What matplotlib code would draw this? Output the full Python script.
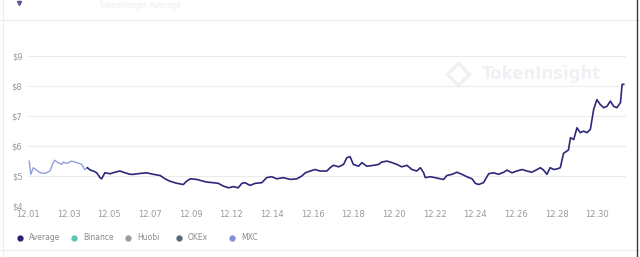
import numpy as np
import matplotlib
matplotlib.use('Agg')
import matplotlib.pyplot as plt
from matplotlib.lines import Line2D

# tick labels (category axis, evenly spaced)
tick_labels = ['12.01', '12.03', '12.05', '12.07', '12.09', '12.12', '12.14', '12.16',
               '12.18', '12.20', '12.22', '12.24', '12.26', '12.28', '12.30']

# early part of the series (lighter line), position in tick units
early_t = [0.03, 0.07, 0.13, 0.30, 0.42, 0.54, 0.62, 0.66, 0.70, 0.83,
           0.87, 0.95, 1.07, 1.20, 1.32, 1.40, 1.46]
early_v = [5.50, 5.06, 5.28, 5.11, 5.09, 5.17, 5.45, 5.53, 5.48, 5.39,
           5.47, 5.42, 5.50, 5.45, 5.39, 5.22, 5.28]

# average series (dark line), rows of 10
avg_t = [1.46, 1.53, 1.61, 1.69, 1.77, 1.81, 1.89, 2.02, 2.14, 2.26,
         2.39, 2.51, 2.59, 2.76, 2.92, 3.08, 3.25, 3.37, 3.49, 3.66,
         3.82, 3.90, 3.99, 4.15, 4.31, 4.40, 4.56, 4.68, 4.80, 4.93,
         5.05, 5.17, 5.26, 5.34, 5.46, 5.59, 5.75, 5.87, 5.99, 6.12,
         6.28, 6.45, 6.61, 6.73, 6.82, 6.94, 7.06, 7.18, 7.35, 7.43,
         7.51, 7.64, 7.76, 7.84, 7.92, 8.00, 8.13, 8.21, 8.33, 8.50,
         8.62, 8.70, 8.83, 8.95, 9.07, 9.19, 9.32, 9.44, 9.56, 9.65,
         9.73, 9.77, 9.89, 10.01, 10.14, 10.22, 10.30, 10.43, 10.55, 10.67,
         10.79, 10.92, 11.00, 11.08, 11.20, 11.33, 11.45, 11.57, 11.70, 11.78,
         11.90, 12.02, 12.15, 12.27, 12.39, 12.52, 12.60, 12.68, 12.76, 12.84,
         12.93, 13.01, 13.09, 13.17, 13.29, 13.34, 13.42, 13.50, 13.58, 13.66,
         13.75, 13.83, 13.91, 13.99, 14.07, 14.16, 14.24, 14.32, 14.40, 14.48,
         14.57, 14.61, 14.65]
avg_v = [5.28, 5.20, 5.17, 5.11, 4.95, 4.91, 5.11, 5.08, 5.13, 5.17,
         5.11, 5.06, 5.06, 5.09, 5.11, 5.06, 5.02, 4.91, 4.83, 4.76,
         4.72, 4.83, 4.91, 4.89, 4.83, 4.80, 4.78, 4.76, 4.67, 4.61,
         4.65, 4.61, 4.76, 4.78, 4.69, 4.76, 4.78, 4.95, 4.98, 4.91,
         4.95, 4.89, 4.91, 5.00, 5.11, 5.17, 5.22, 5.17, 5.17, 5.28,
         5.36, 5.31, 5.39, 5.61, 5.65, 5.39, 5.33, 5.45, 5.33, 5.36,
         5.39, 5.47, 5.50, 5.45, 5.39, 5.31, 5.36, 5.22, 5.17, 5.28,
         5.11, 4.95, 4.98, 4.95, 4.91, 4.89, 5.02, 5.06, 5.13, 5.06,
         4.98, 4.91, 4.76, 4.72, 4.78, 5.08, 5.11, 5.06, 5.13, 5.20,
         5.11, 5.17, 5.22, 5.17, 5.13, 5.22, 5.28, 5.20, 5.06, 5.28,
         5.22, 5.24, 5.28, 5.76, 5.87, 6.28, 6.22, 6.61, 6.45, 6.50,
         6.45, 6.56, 7.22, 7.55, 7.39, 7.28, 7.33, 7.50, 7.33, 7.28,
         7.45, 8.06, 8.06]

yticks = [4, 5, 6, 7, 8, 9]

legend_names = ['Average', 'Binance', 'Huobi', 'OKEx', 'MXC']
legend_colors = ['#2a2270', '#5ec4b4', '#9a9a9a', '#56697a', '#7d8edb']
legend_x = [20, 74, 128, 179, 232]   # pixel positions of the legend dots

fig = plt.figure(figsize=(6.4, 2.57), dpi=100)
ax = fig.add_axes([0.04375, 0.198, 0.934, 0.642])

ax.plot(early_t, early_v, color='#8fa0dc', lw=1.0)
ax.plot(avg_t, avg_v, color='#2d2878', lw=1.2)

ax.set_xlim(0, 14.7)
ax.set_ylim(4, 9.5)
ax.set_yticks(yticks)
ax.set_yticklabels(['$%d' % v for v in yticks])
ax.set_xticks(range(len(tick_labels)))
ax.set_xticklabels(tick_labels)
ax.tick_params(axis='both', length=0, labelsize=6, colors='#999999')
ax.tick_params(axis='y', pad=4)
ax.tick_params(axis='x', pad=3)
ax.grid(axis='y', color='#ececec', lw=0.8)
ax.set_axisbelow(True)
for s in ax.spines.values():
    s.set_visible(False)

# watermark
ax.text(0.958, 0.8, 'TokenInsight', transform=ax.transAxes, ha='right', va='center',
        fontsize=12, fontweight='bold', color='#f0f0f5', zorder=0)
ax.plot([0.72], [0.8], transform=ax.transAxes, marker='D', ms=11, mfc='none',
        mec='#f0f0f5', mew=2.5, zorder=0)

for x, name, c in zip(legend_x, legend_names, legend_colors):
    fig.add_artist(Line2D([x / 640], [0.074], marker='o', ms=3.5, color=c, ls='none'))
    fig.text((x + 9) / 640, 0.074, name, fontsize=5.5, color='#8a8a8a', va='center')

# frame lines
fig.add_artist(Line2D([0, 1], [0.922, 0.922], color='#f0f0f0', lw=1.0))
fig.add_artist(Line2D([0, 1], [0.027, 0.027], color='#f0f0f0', lw=1.0))
fig.add_artist(Line2D([0.996, 0.996], [0, 1], color='#3a3a3a', lw=1.0))
fig.add_artist(Line2D([0.004, 0.004], [0, 1], color='#eeeeee', lw=0.8))
fig.add_artist(Line2D([0.03], [0.99], marker='v', ms=3, color='#5a5a8a', ls='none'))
fig.text(0.155, 0.998, 'TokenInsight Average', fontsize=5.5, color='#ededed', va='top')

fig.savefig('out.png', dpi=100, facecolor='white')
